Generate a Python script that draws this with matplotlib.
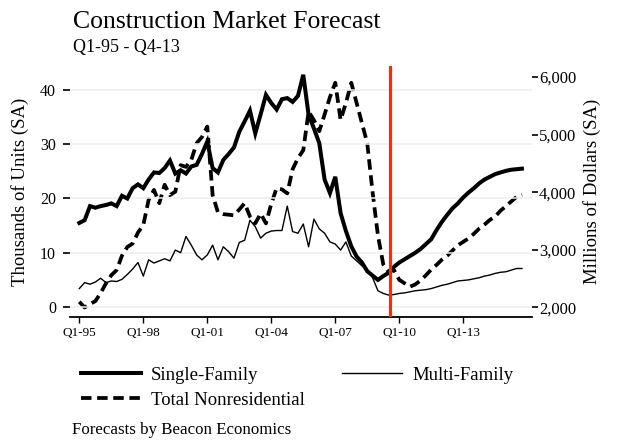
import matplotlib
matplotlib.use("Agg")
import matplotlib.pyplot as plt
from matplotlib.lines import Line2D

plt.rcParams['font.family'] = ['Liberation Serif', 'DejaVu Serif']

# quarterly series, Q1-95 .. Q4-15
quarters = [f"Q{q}-{y % 100:02d}" for y in range(1995, 2016) for q in range(1, 5)]

single_family = [
    15.5, 16.0, 18.6, 18.3, 18.6, 18.8, 19.1, 18.6, 20.5, 20.0,
    21.9, 22.6, 21.9, 23.5, 24.8, 24.7, 25.6, 27.0, 24.6, 25.2,
    24.6, 25.9, 26.2, 28.2, 30.5, 25.6, 24.8, 27.1, 28.2, 29.4,
    32.3, 34.2, 36.2, 32.0, 35.5, 39.1, 37.6, 36.4, 38.3, 38.5,
    37.8, 38.9, 42.8, 35.4, 32.9, 30.2, 23.5, 21.0, 24.0, 17.3,
    14.0, 11.2, 9.3, 8.2, 6.6, 5.8, 5.0, 5.7, 6.3, 7.4,
    8.2, 8.8, 9.4, 10.0, 10.7, 11.6, 12.5, 14.2, 15.7, 17.0,
    18.2, 19.1, 20.2, 21.1, 21.9, 22.8, 23.5, 24.0, 24.5, 24.8,
    25.1, 25.3, 25.4, 25.5,
]

multi_family = [
    3.4, 4.5, 4.2, 4.6, 5.3, 4.5, 4.8, 4.7, 5.1, 6.0,
    7.0, 8.2, 5.7, 8.7, 8.1, 8.5, 8.9, 8.5, 10.5, 10.0,
    13.0, 11.4, 9.6, 8.7, 9.6, 11.4, 8.7, 11.1, 10.2, 9.0,
    11.9, 12.3, 16.0, 14.8, 12.7, 13.6, 14.0, 14.1, 14.1, 18.6,
    13.9, 13.6, 15.3, 11.1, 16.2, 14.4, 13.6, 12.0, 11.6, 10.5,
    12.0, 9.4, 8.5, 7.6, 6.9, 5.4, 3.0, 2.5, 2.2, 2.3,
    2.5, 2.6, 2.8, 3.0, 3.1, 3.2, 3.4, 3.7, 4.0, 4.2,
    4.5, 4.8, 4.9, 5.0, 5.2, 5.4, 5.7, 5.9, 6.2, 6.4,
    6.5, 6.8, 7.1, 7.1,
]

nonresidential = [
    2100, 2000, 2060, 2110, 2250, 2420, 2560, 2650, 2900, 3050,
    3110, 3300, 3430, 3870, 4040, 3810, 4130, 3950, 4010, 4470,
    4440, 4560, 4850, 4960, 5140, 3950, 3650, 3620, 3610, 3600,
    3700, 3810, 3580, 3460, 3630, 3460, 3800, 4070, 4050, 3980,
    4400, 4590, 4730, 5400, 5250, 5060, 5350, 5650, 5900, 5255,
    5550, 5900, 5550, 5200, 4850, 4000, 3250, 2750, 2620, 2650,
    2480, 2420, 2360, 2400, 2470, 2560, 2660, 2740, 2830, 2900,
    2990, 3080, 3140, 3200, 3280, 3370, 3440, 3520, 3580, 3680,
    3760, 3840, 3920, 3960,
]

tick_labels = ["Q1-95", "Q1-98", "Q1-01", "Q1-04", "Q1-07", "Q1-10", "Q1-13"]
left_ticks = [0, 10, 20, 30, 40]
right_ticks = [2000, 3000, 4000, 5000, 6000]
forecast_start = 58.3

x = list(range(len(quarters)))
dash = (0, (2.8, 1.5))

fig = plt.figure(figsize=(6.38, 4.42), dpi=100)
ax = fig.add_axes([0.1097, 0.2828, 0.7242, 0.5679])
ax2 = ax.twinx()

for y in left_ticks:
    ax.axhline(y, color="#e9f0ef", lw=1.1, zorder=0)

ax.plot(x, single_family, color="black", lw=2.9, solid_joinstyle="miter", zorder=3)
ax.plot(x, multi_family, color="black", lw=1.0, zorder=3)
ax2.plot(x, nonresidential, color="black", lw=2.7, linestyle=dash, zorder=3)
ax.axvline(forecast_start, color="#ff2a00", lw=2.3, zorder=4)

ax.set_xlim(-1.75, 84.9)
ax.set_ylim(-1.84, 44.42)
ax2.set_ylim(1835, 6191)

ax.set_xticks([quarters.index(t) for t in tick_labels])
ax.set_xticklabels(tick_labels, fontsize=9.5)
ax.set_yticks(left_ticks)
ax.set_yticklabels([str(v) for v in left_ticks], fontsize=11.5)
ax2.set_yticks(right_ticks)
ax2.set_yticklabels([f"{v:,}" for v in right_ticks], fontsize=12)

for a in (ax, ax2):
    for side in ("left", "right", "top"):
        a.spines[side].set_visible(False)
    a.spines["bottom"].set_linewidth(1.3)
ax2.spines["bottom"].set_visible(False)
ax.patch.set_visible(False)
ax2.set_zorder(ax.get_zorder() - 1)
ax.set_zorder(2)

ax.tick_params(axis="x", length=4, width=1, pad=3)
ax.tick_params(axis="y", length=5, width=1.2, pad=5)
ax2.tick_params(axis="y", length=4, width=1.2, pad=1)

ax.set_ylabel("Thousands of Units (SA)", fontsize=13.5, labelpad=8)
ax2.set_ylabel("Millions of Dollars (SA)", fontsize=13.5, labelpad=5)

fig.text(0.114, 0.937, "Construction Market Forecast", fontsize=18.5, va="baseline")
fig.text(0.114, 0.882, "Q1-95 - Q4-13", fontsize=13, va="baseline")
fig.text(0.113, 0.017, "Forecasts by Beacon Economics", fontsize=12.2, va="baseline")

handles = [
    Line2D([], [], color="black", lw=2.9),
    Line2D([], [], color="black", lw=2.7, linestyle=dash),
    Line2D([], [], color="black", lw=1.0),
]
labels = ["Single-Family", "Total Nonresidential", "Multi-Family"]
fig.legend(handles, labels, ncol=2, loc="upper left", bbox_to_anchor=(0.115, 0.188),
           frameon=False, fontsize=13.5, handlelength=3.2, handletextpad=0.53,
           columnspacing=2.0, labelspacing=0.42, borderaxespad=0)

fig.savefig("out.png", dpi=100)
